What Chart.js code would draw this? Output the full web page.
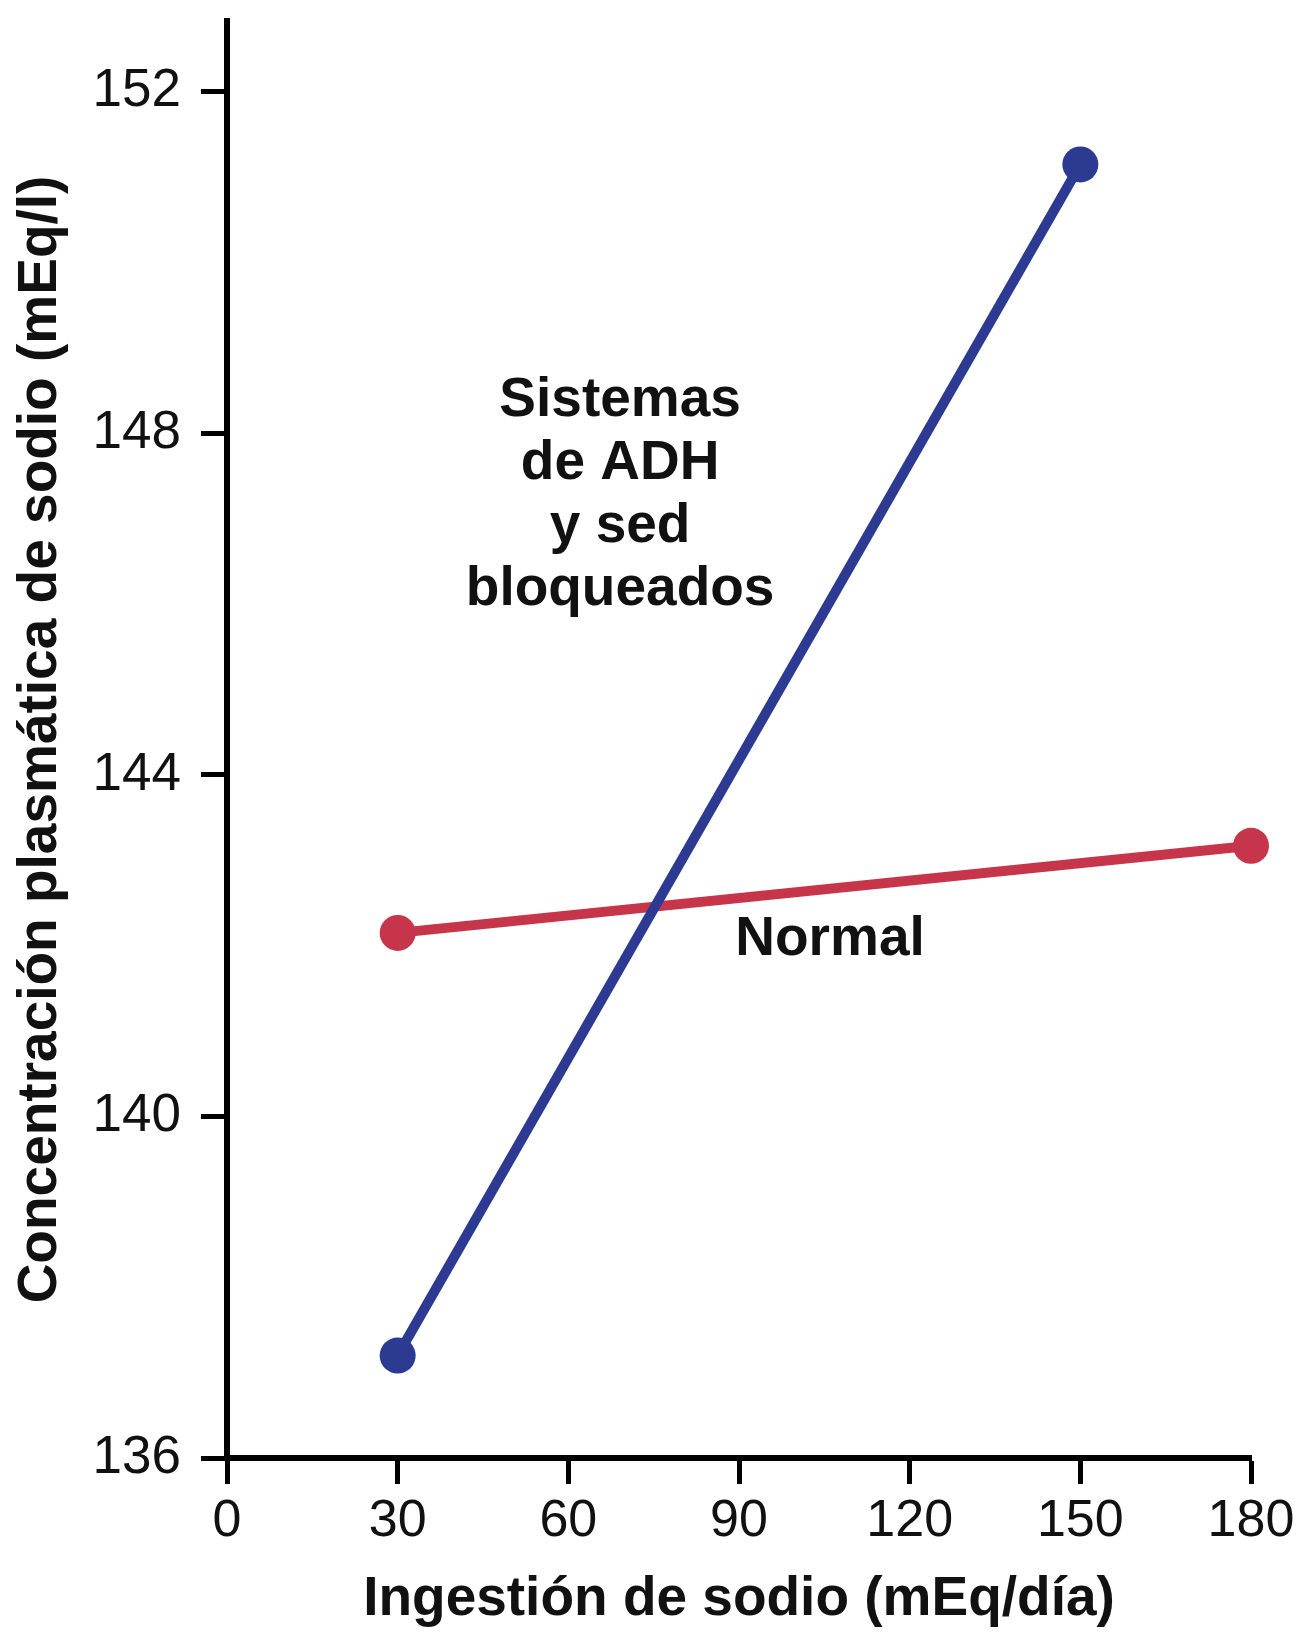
<!DOCTYPE html>
<html>
<head>
<meta charset="utf-8">
<script src="https://cdn.jsdelivr.net/npm/chart.js@4.4.0/dist/chart.umd.min.js"></script>
<style>
  html, body { margin: 0; padding: 0; background: #ffffff; }
  #wrap { width: 1310px; height: 1633px; position: relative; }
</style>
</head>
<body>
<div id="wrap"><canvas id="c" width="1310" height="1633"></canvas></div>
<script>
// ---- Data ----
const xTicks = [0, 30, 60, 90, 120, 150, 180];
const yTicks = [136, 140, 144, 148, 152];
const blockedX = [30, 150];
const blockedY = [137.2, 151.15];
const normalX = [30, 180];
const normalY = [142.15, 143.17];
const blockedLabel = ["Sistemas", "de ADH", "y sed", "bloqueados"];
const normalLabel = "Normal";
const xTitle = "Ingestión de sodio (mEq/día)";
const yTitle = "Concentración plasmática de sodio (mEq/l)";

const BLUE = "#2c3a92";
const RED = "#c7354b";
const FONT = "'Liberation Sans', Arial, Helvetica, sans-serif";

const annotations = {
  id: "annotations",
  afterDatasetsDraw(chart) {
    const ctx = chart.ctx;
    const xs = chart.scales.x, ys = chart.scales.y;
    ctx.save();
    ctx.fillStyle = "#111";
    ctx.textAlign = "center";
    ctx.textBaseline = "middle";
    ctx.font = "bold 55px " + FONT;
    const cx = xs.getPixelForValue(69.1);
    const cy0 = ys.getPixelForValue(148.38);
    blockedLabel.forEach((t, i) => ctx.fillText(t, cx, cy0 + i * 63));
    ctx.fillText(normalLabel, xs.getPixelForValue(106), ys.getPixelForValue(142.07));
    ctx.restore();
  }
};

new Chart(document.getElementById("c"), {
  type: "line",
  data: {
    datasets: [
      {
        label: "Bloqueados",
        data: blockedX.map((x, i) => ({ x, y: blockedY[i] })),
        borderColor: BLUE, backgroundColor: BLUE,
        borderWidth: 10, pointRadius: 18, pointHoverRadius: 18,
        pointBorderWidth: 0, clip: false
      },
      {
        label: "Normal",
        data: normalX.map((x, i) => ({ x, y: normalY[i] })),
        borderColor: RED, backgroundColor: RED,
        borderWidth: 10, pointRadius: 18, pointHoverRadius: 18,
        pointBorderWidth: 0, clip: false
      }
    ]
  },
  options: {
    responsive: false,
    animation: false,
    events: [],
    layout: { padding: { top: 21, right: 59, left: 0, bottom: 0 } },
    plugins: { legend: { display: false }, tooltip: { enabled: false } },
    scales: {
      x: {
        type: "linear", min: 0, max: 180,
        afterBuildTicks(s) { s.ticks = xTicks.map(v => ({ value: v })); },
        afterFit(s) { s.height = 175; s.paddingLeft = 0; s.paddingRight = 0; },
        border: { display: true, color: "#000", width: 6 },
        grid: { drawOnChartArea: false, color: "#000", tickLength: 26, tickWidth: 5 },
        ticks: { color: "#111", font: { family: FONT, size: 52 }, padding: 6, maxRotation: 0 },
        title: { display: true, text: xTitle, color: "#111",
                 font: { family: FONT, size: 55, weight: "bold" }, padding: { top: 0, bottom: 0 } }
      },
      y: {
        type: "linear", min: 136, max: 152.83,
        afterBuildTicks(s) { s.ticks = yTicks.map(v => ({ value: v })); },
        afterFit(s) { s.width = 227; s.paddingTop = 0; s.paddingBottom = 0; },
        border: { display: true, color: "#000", width: 6 },
        grid: { drawOnChartArea: false, color: "#000", tickLength: 26, tickWidth: 5 },
        ticks: { color: "#111", font: { family: FONT, size: 53 }, padding: 20 },
        title: { display: true, text: yTitle, color: "#111",
                 font: { family: FONT, size: 55, weight: "bold" }, padding: { top: 8, bottom: 0 } }
      }
    }
  },
  plugins: [annotations]
});
</script>
</body>
</html>
